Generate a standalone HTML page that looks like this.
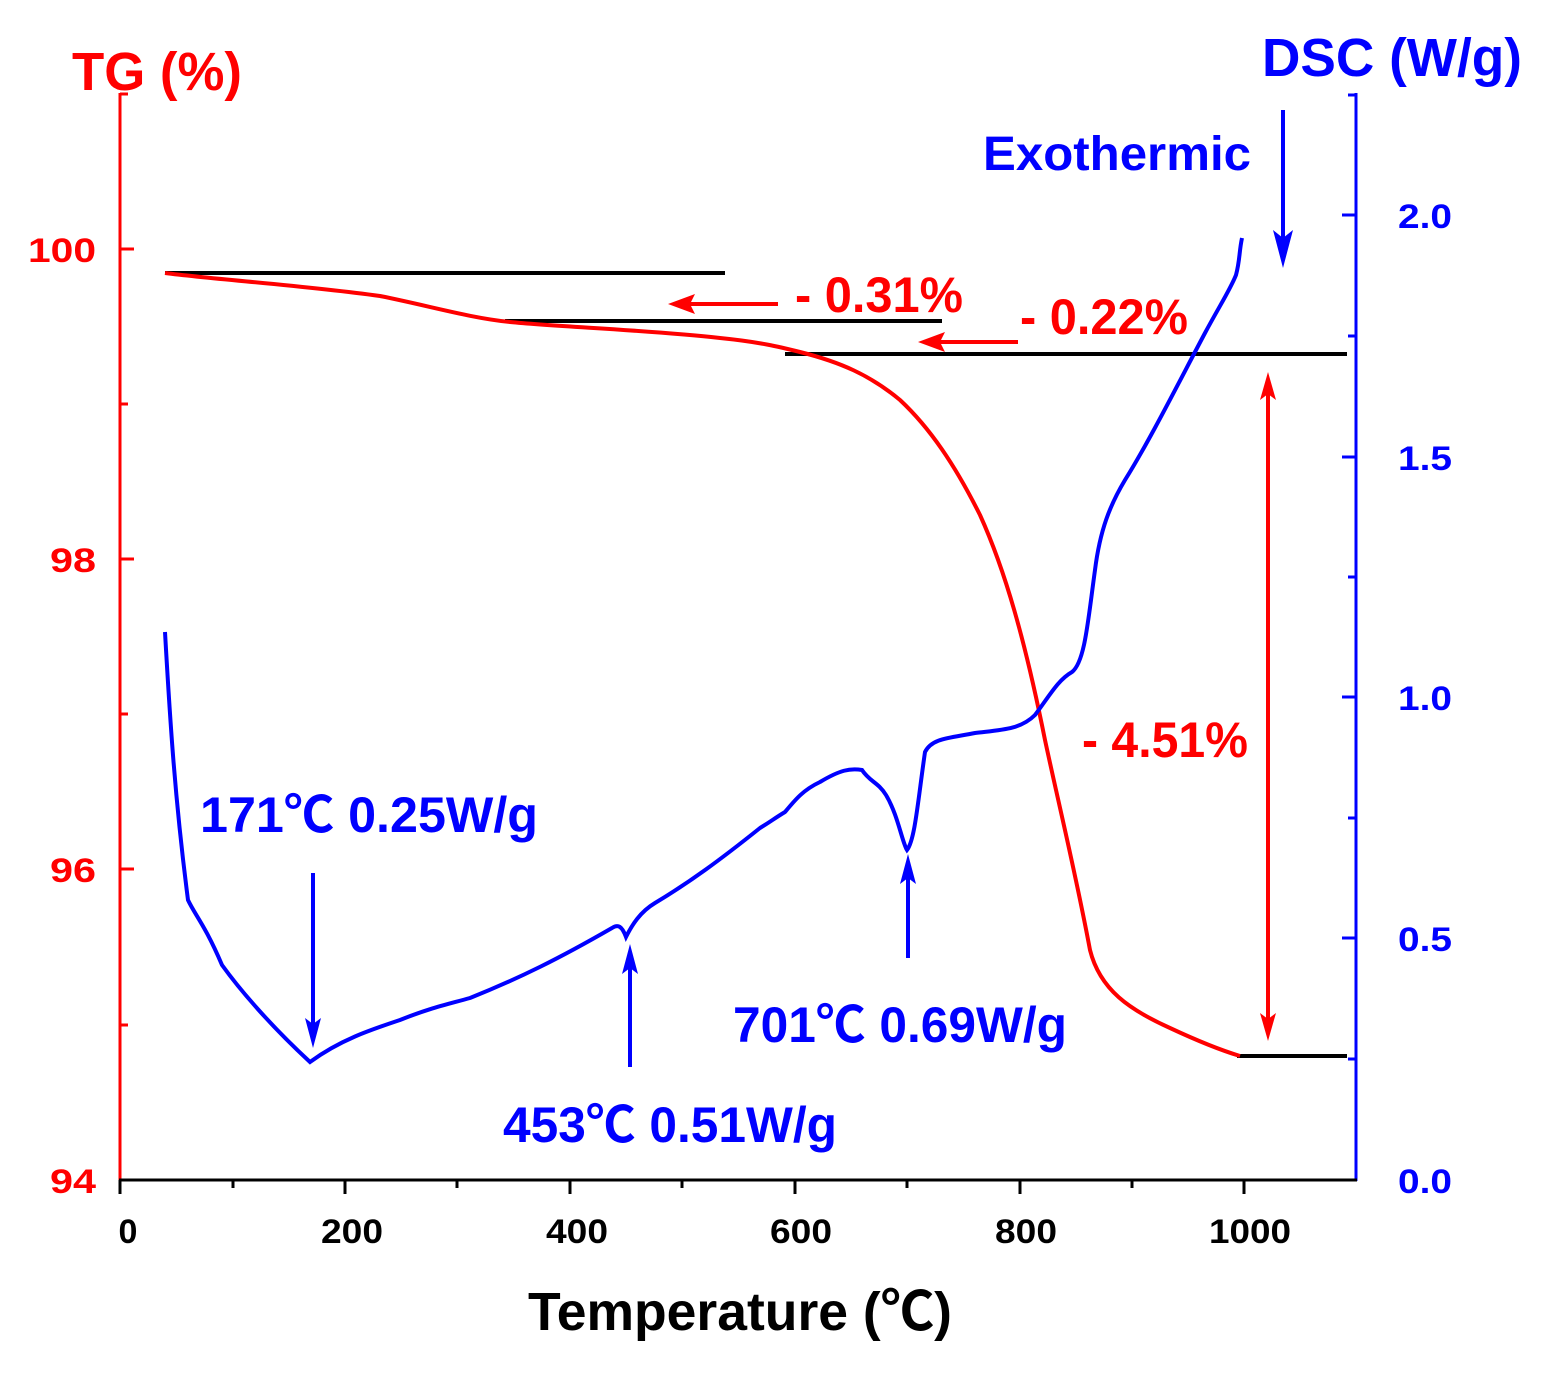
<!DOCTYPE html>
<html><head><meta charset="utf-8"><style>body{margin:0;background:#fff}svg{display:block}text{font-family:"Liberation Sans","Noto Sans CJK SC",sans-serif;font-weight:bold}</style></head><body>
<svg width="1557" height="1376" viewBox="0 0 1557 1376" xmlns="http://www.w3.org/2000/svg">
<defs>
<marker id="ra" markerWidth="10" markerHeight="10" refX="9" refY="5" orient="auto-start-reverse" markerUnits="userSpaceOnUse"><path d="M0,0 L10,5 L0,10 L3,5Z" fill="red"/></marker>
<marker id="ba" markerWidth="12" markerHeight="22" refX="11" refY="6" orient="auto" markerUnits="userSpaceOnUse"><path d="M0,0 L12,6 L0,12 L3,6Z" fill="blue"/></marker>
</defs>
<!-- axes -->
<line x1="120" y1="93" x2="120" y2="1181" stroke="red" stroke-width="3"/>
<line x1="1356" y1="93" x2="1356" y2="1181" stroke="blue" stroke-width="3"/>
<line x1="119" y1="1180" x2="1357" y2="1180" stroke="#000" stroke-width="3"/>
<g stroke="red" stroke-width="3">
<line x1="120" y1="249" x2="134" y2="249"/><line x1="120" y1="559" x2="134" y2="559"/><line x1="120" y1="869" x2="134" y2="869"/>
<line x1="120" y1="404" x2="128" y2="404"/><line x1="120" y1="714" x2="128" y2="714"/><line x1="120" y1="1025" x2="128" y2="1025"/><line x1="120" y1="94" x2="128" y2="94"/>
</g>
<g stroke="blue" stroke-width="3">
<line x1="1342" y1="215" x2="1356" y2="215"/><line x1="1342" y1="457" x2="1356" y2="457"/><line x1="1342" y1="697" x2="1356" y2="697"/><line x1="1342" y1="938" x2="1356" y2="938"/>
<line x1="1348" y1="95" x2="1356" y2="95"/><line x1="1348" y1="336" x2="1356" y2="336"/><line x1="1348" y1="577" x2="1356" y2="577"/><line x1="1348" y1="818" x2="1356" y2="818"/><line x1="1348" y1="1059" x2="1356" y2="1059"/>
</g>
<g stroke="#000" stroke-width="3">
<line x1="120" y1="1180" x2="120" y2="1194"/><line x1="345" y1="1180" x2="345" y2="1194"/><line x1="570" y1="1180" x2="570" y2="1194"/><line x1="795" y1="1180" x2="795" y2="1194"/><line x1="1020" y1="1180" x2="1020" y2="1194"/><line x1="1244" y1="1180" x2="1244" y2="1194"/>
<line x1="233" y1="1180" x2="233" y2="1188"/><line x1="457" y1="1180" x2="457" y2="1188"/><line x1="682" y1="1180" x2="682" y2="1188"/><line x1="907" y1="1180" x2="907" y2="1188"/><line x1="1132" y1="1180" x2="1132" y2="1188"/>
</g>
<!-- tick labels -->
<g fill="red" font-size="34" text-anchor="end">
<text x="96" y="262" textLength="68" lengthAdjust="spacingAndGlyphs">100</text>
<text x="96" y="572" textLength="46" lengthAdjust="spacingAndGlyphs">98</text>
<text x="96" y="882" textLength="46" lengthAdjust="spacingAndGlyphs">96</text>
<text x="96" y="1193" textLength="46" lengthAdjust="spacingAndGlyphs">94</text>
</g>
<g fill="blue" font-size="34">
<text x="1398" y="228" textLength="54" lengthAdjust="spacingAndGlyphs">2.0</text>
<text x="1398" y="470" textLength="54" lengthAdjust="spacingAndGlyphs">1.5</text>
<text x="1398" y="710" textLength="54" lengthAdjust="spacingAndGlyphs">1.0</text>
<text x="1398" y="951" textLength="54" lengthAdjust="spacingAndGlyphs">0.5</text>
<text x="1398" y="1193" textLength="54" lengthAdjust="spacingAndGlyphs">0.0</text>
</g>
<g fill="#000" font-size="34" text-anchor="middle">
<text x="128" y="1243">0</text>
<text x="352" y="1243" textLength="62" lengthAdjust="spacingAndGlyphs">200</text>
<text x="577" y="1243" textLength="62" lengthAdjust="spacingAndGlyphs">400</text>
<text x="801" y="1243" textLength="62" lengthAdjust="spacingAndGlyphs">600</text>
<text x="1026" y="1243" textLength="62" lengthAdjust="spacingAndGlyphs">800</text>
<text x="1250" y="1243" textLength="82" lengthAdjust="spacingAndGlyphs">1000</text>
</g>
<text x="528" y="1330" font-size="54" fill="#000" textLength="424" lengthAdjust="spacingAndGlyphs">Temperature (℃)</text>
<text x="72" y="90" font-size="54" fill="red" textLength="170" lengthAdjust="spacingAndGlyphs">TG (%)</text>
<text x="1262" y="76" font-size="54" fill="blue" textLength="260" lengthAdjust="spacingAndGlyphs">DSC (W/g)</text>
<text x="983" y="170" font-size="48" fill="blue" textLength="268" lengthAdjust="spacingAndGlyphs">Exothermic</text>
<!-- black lines -->
<g stroke="#000" stroke-width="4">
<line x1="165" y1="273" x2="725" y2="273"/><line x1="505" y1="321" x2="942" y2="321"/><line x1="785" y1="354" x2="1347" y2="354"/><line x1="1237" y1="1056" x2="1347" y2="1056"/>
</g>
<!-- TG curve -->
<path d="M165,273 C220,280 300,285 380,296 C430,306 470,318 510,322 C560,327 650,330 720,338 C760,342 780,347 800,352 C840,362 870,375 900,400 C930,428 955,465 980,515 C1005,570 1025,640 1045,740 C1060,810 1075,870 1090,950 C1100,990 1130,1010 1170,1028 C1200,1042 1220,1050 1240,1056" fill="none" stroke="red" stroke-width="4"/>
<!-- DSC curve -->
<path d="M165,632 C170,720 175,800 188,900 C195,915 205,925 222,965 C240,990 270,1025 310,1062 C340,1040 370,1030 400,1020 C430,1008 445,1005 470,998 C520,978 560,958 612,928 C618,924 622,926 626,937 C632,925 640,912 655,903 C690,882 720,860 760,828 C770,822 775,818 785,812 C795,800 803,790 820,782 C840,770 850,768 862,770 C870,782 878,782 886,795 C898,815 902,842 907,850 C915,840 918,800 925,752 C932,738 950,738 975,733 C1000,730 1020,730 1035,715 C1050,695 1058,680 1072,672 C1085,662 1088,620 1095,570 C1100,530 1110,505 1125,480 C1150,440 1180,380 1205,333 C1220,305 1230,290 1236,275 C1240,260 1239,252 1242,238" fill="none" stroke="blue" stroke-width="4"/>
<!-- red arrows -->
<g stroke="red" stroke-width="4" fill="red">
<line x1="778" y1="304" x2="680" y2="304"/><path d="M668,304 L695,294 L690,304 L695,314Z" stroke="none"/>
<line x1="1018" y1="342" x2="930" y2="342"/><path d="M918,342 L945,332 L940,342 L945,352Z" stroke="none"/>
<line x1="1268" y1="385" x2="1268" y2="1028"/>
<path d="M1268,372 L1260,400 L1268,394 L1276,400Z" stroke="none"/>
<path d="M1268,1041 L1260,1013 L1268,1019 L1276,1013Z" stroke="none"/>
</g>
<!-- blue arrows -->
<g stroke="blue" stroke-width="4" fill="blue">
<line x1="313" y1="873" x2="313" y2="1030"/><path d="M313,1048 L305,1018 L313,1024 L321,1018Z" stroke="none"/>
<line x1="630" y1="1067" x2="630" y2="962"/><path d="M630,944 L622,974 L630,968 L638,974Z" stroke="none"/>
<line x1="908" y1="958" x2="908" y2="872"/><path d="M908,854 L900,884 L908,878 L916,884Z" stroke="none"/>
<line x1="1283" y1="110" x2="1283" y2="248"/><path d="M1283,268 L1273,230 L1283,238 L1293,230Z" stroke="none"/>
</g>
<!-- labels -->
<g font-size="50" fill="red">
<text x="795" y="312" textLength="168" lengthAdjust="spacingAndGlyphs">- 0.31%</text>
<text x="1020" y="334" textLength="168" lengthAdjust="spacingAndGlyphs">- 0.22%</text>
<text x="1082" y="757" textLength="166" lengthAdjust="spacingAndGlyphs">- 4.51%</text>
</g>
<g font-size="50" fill="blue">
<text x="200" y="832" textLength="338" lengthAdjust="spacingAndGlyphs">171℃ 0.25W/g</text>
<text x="503" y="1142" textLength="334" lengthAdjust="spacingAndGlyphs">453℃ 0.51W/g</text>
<text x="733" y="1042" textLength="334" lengthAdjust="spacingAndGlyphs">701℃ 0.69W/g</text>
</g>
</svg>
</body></html>
